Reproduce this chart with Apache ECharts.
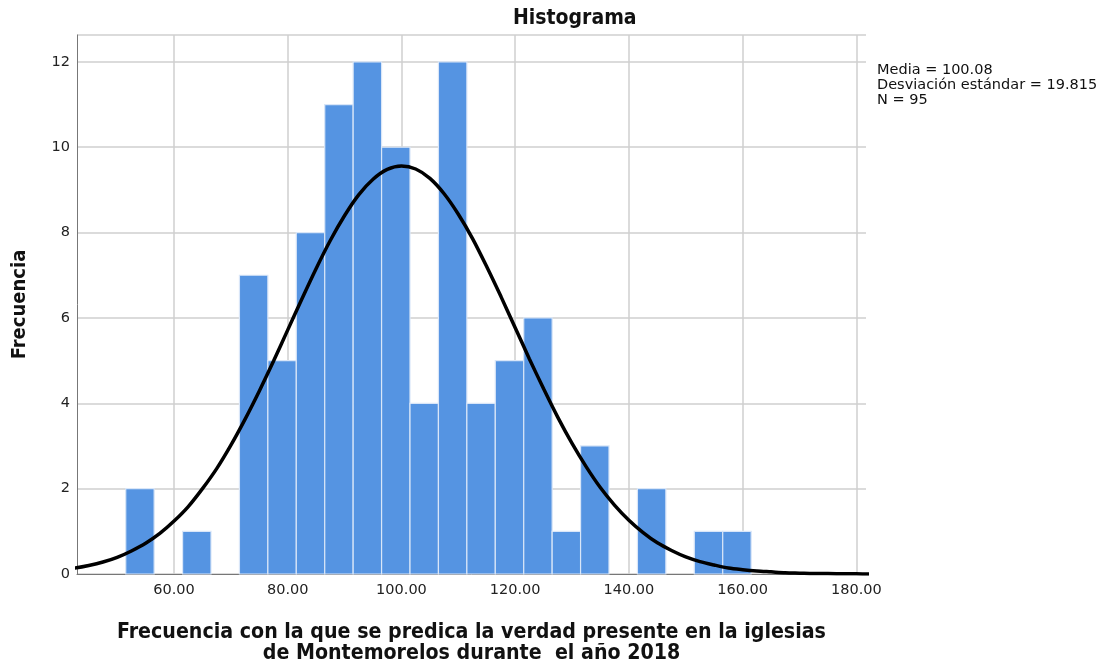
<!DOCTYPE html>
<html>
<head>
<meta charset="utf-8">
<script src="https://cdn.jsdelivr.net/npm/echarts@6/dist/echarts.min.js"></script>
<style>
  html, body { margin: 0; background: #fff; }
  #chart { width: 1104px; height: 661px; }
</style>
</head>
<body>
<div id="chart"></div>
<script>
/* ── Histogram bins (lower / upper edge) and counts ── */
const BIN_LO = [51.5, 61.5, 71.5, 76.5, 81.5, 86.5, 91.5, 96.5, 101.5, 106.5, 111.5, 116.5, 121.5, 126.5, 131.5, 141.5, 151.5, 156.5];
const BIN_HI = [56.5, 66.5, 76.5, 81.5, 86.5, 91.5, 96.5, 101.5, 106.5, 111.5, 116.5, 121.5, 126.5, 131.5, 136.5, 146.5, 156.5, 161.5];
const COUNTS = [2, 1, 7, 5, 8, 11, 12, 10, 4, 12, 4, 5, 6, 1, 3, 2, 1, 1];

/* ── Normal curve, every 2.5 units ── */
const CURVE_X = [
    40, 42.5, 45, 47.5, 50, 52.5, 55, 57.5, 60, 62.5, 65, 67.5, 70, 72.5, 75, 77.5,
    80, 82.5, 85, 87.5, 90, 92.5, 95, 97.5, 100, 102.5, 105, 107.5, 110, 112.5, 115, 117.5,
    120, 122.5, 125, 127.5, 130, 132.5, 135, 137.5, 140, 142.5, 145, 147.5, 150, 152.5, 155, 157.5,
    160, 162.5, 165, 167.5, 170, 172.5, 175, 177.5, 180, 182.5,
];
const CURVE_Y = [
    0.10, 0.14, 0.20, 0.28, 0.39, 0.54, 0.72, 0.95, 1.24, 1.58, 2.00, 2.47, 3.02, 3.63, 4.29, 4.99,
    5.72, 6.45, 7.16, 7.82, 8.40, 8.89, 9.25, 9.48, 9.56, 9.49, 9.27, 8.91, 8.43, 7.86, 7.20, 6.50,
    5.77, 5.04, 4.34, 3.67, 3.06, 2.51, 2.02, 1.61, 1.26, 0.97, 0.73, 0.55, 0.40, 0.29, 0.21, 0.14,
    0.10, 0.07, 0.05, 0.03, 0.02, 0.01, 0.01, 0.005, 0.003, 0.002,
];

/* ── Axis ticks and stats ── */
const X_TICKS = [60, 80, 100, 120, 140, 160, 180];
const STATS = ['Media = 100.08', 'Desviación estándar = 19.815', 'N = 95'];

const chart = echarts.init(document.getElementById('chart'), null, { renderer: 'canvas' });

const barData = BIN_LO.map((lo, i) => [lo, BIN_HI[i], COUNTS[i]]);
const curveData = CURVE_X.map((x, i) => [x, CURVE_Y[i]]);

chart.setOption({
    animation: false,
    grid: { left: 77, right: 238, top: 35, bottom: 87, containLabel: false, outerBoundsMode: 'none' },
    graphic: [
        {
            type: 'text', left: 513, top: 8,
            style: {
                text: 'Histograma',
                font: 'bold 21px "DejaVu Sans Condensed", "DejaVu Sans"', fill: '#111',
            },
        },
        {
            type: 'text', left: 877, top: 63,
            style: {
                text: STATS.join('\n'), lineHeight: 15,
                font: '14.5px "DejaVu Sans"', fill: '#111',
            },
        },
    ],
    xAxis: {
        type: 'value',
        min: 42.93,
        max: 181.7,
        name: 'Frecuencia con la que se predica la verdad presente en la iglesias\nde Montemorelos durante  el año 2018',
        nameLocation: 'middle',
        nameGap: 48,
        nameTextStyle: {
            fontFamily: '"Liberation Sans Narrow", "DejaVu Sans Condensed"',
            fontWeight: 'bold', fontSize: 21.2, color: '#111', lineHeight: 21,
        },
        axisLine: { show: true, onZero: false, lineStyle: { color: '#777', width: 1 } },
        axisTick: { show: false, customValues: X_TICKS },
        axisLabel: {
            customValues: X_TICKS,
            formatter: v => v.toFixed(2),
            fontFamily: '"DejaVu Sans"', fontSize: 14.5, color: '#222', margin: 9,
        },
        splitLine: { show: true, lineStyle: { color: '#cfcfcf', width: 1.5 } },
    },
    yAxis: {
        type: 'value',
        min: 0,
        max: 12.63,
        interval: 2,
        name: 'Frecuencia',
        nameLocation: 'middle',
        nameRotate: 90,
        nameGap: 47,
        nameTextStyle: {
            fontFamily: '"DejaVu Sans Condensed", "DejaVu Sans"',
            fontWeight: 'bold', fontSize: 20, color: '#111',
        },
        axisLine: { show: true, lineStyle: { color: '#777', width: 1 } },
        axisTick: { show: false },
        axisLabel: { showMaxLabel: false, fontFamily: '"DejaVu Sans"', fontSize: 14.5, color: '#222', margin: 7 },
        splitLine: { show: true, lineStyle: { color: '#cfcfcf', width: 1.5 } },
    },
    series: [
        {
            type: 'custom',
            data: barData,
            encode: { x: [0, 1], y: 2 },
            renderItem: (params, api) => {
                const p0 = api.coord([api.value(0), api.value(2)]);
                const p1 = api.coord([api.value(1), 0]);
                return {
                    type: 'rect',
                    shape: { x: p0[0], y: p0[1], width: p1[0] - p0[0], height: p1[1] - p0[1] },
                    style: { fill: '#5594e2', stroke: '#d9e6f8', lineWidth: 1.2 },
                };
            },
            z: 2,
        },
        {
            type: 'line',
            data: curveData,
            smooth: 0.3,
            symbol: 'none',
            lineStyle: { color: '#000', width: 3.5 },
            z: 3,
        },
    ],
});
</script>
</body>
</html>
